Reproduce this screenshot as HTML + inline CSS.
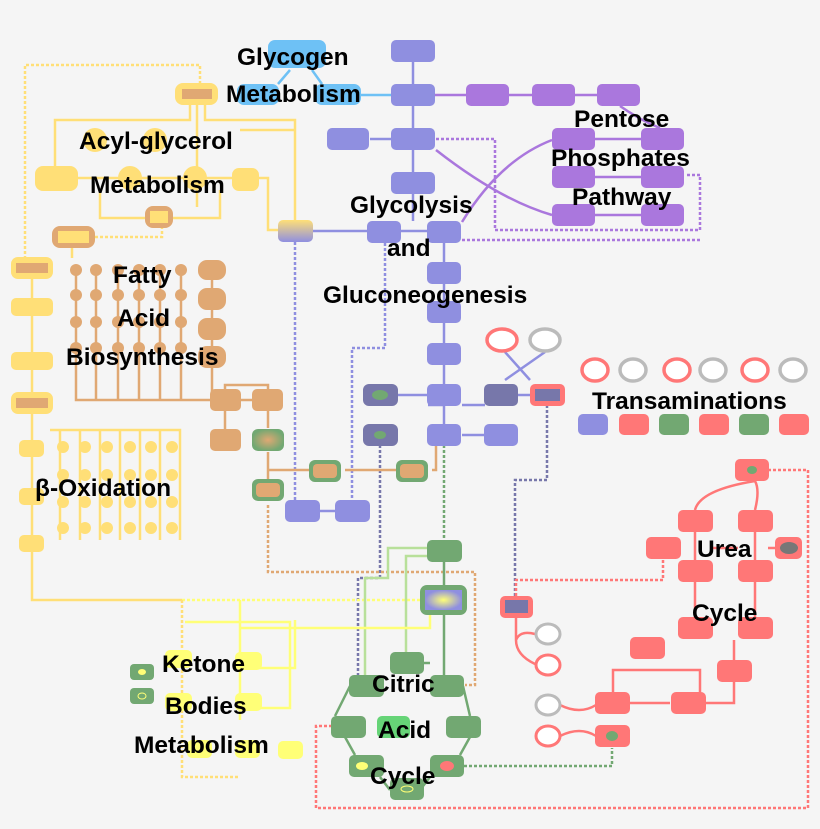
<!DOCTYPE html>
<html><head><meta charset="utf-8"><style>
html,body{margin:0;padding:0;background:#f5f5f5}
svg{display:block}
text{font-family:"Liberation Sans",sans-serif;font-weight:bold;font-size:24.5px;fill:#000}
.p{fill:#8f8fe0}.v{fill:#aa77dd}.y{fill:#ffdf77}.o{fill:#e0a873}.g{fill:#72a872}.r{fill:#ff7777}.b{fill:#6ec1f5}.d{fill:#7777aa}.ly{fill:#ffff77}
.lp{stroke:#8f8fe0;stroke-width:2.5;fill:none}.lv{stroke:#aa77dd;stroke-width:2.5;fill:none}
.ly2{stroke:#ffdf77;stroke-width:2.5;fill:none}.lo{stroke:#e0a873;stroke-width:2.5;fill:none}
.lg{stroke:#72a872;stroke-width:2.5;fill:none}.lr{stroke:#ff7777;stroke-width:2.5;fill:none}
.lk{stroke:#ffff77;stroke-width:2.5;fill:none}.llg{stroke:#b8e09a;stroke-width:2.5;fill:none}
.dt{stroke-dasharray:3 2}
</style></head><body>
<svg width="820" height="829" viewBox="0 0 820 829" xmlns="http://www.w3.org/2000/svg">
<defs>
<linearGradient id="gy" x1="0" y1="0" x2="0" y2="1"><stop offset="0" stop-color="#ffdf77"/><stop offset="1" stop-color="#8f8fe0"/></linearGradient>
<radialGradient id="gg"><stop offset="0" stop-color="#ffff77"/><stop offset="1" stop-color="#8f8fe0"/></radialGradient>
<radialGradient id="go"><stop offset="0" stop-color="#e0a873"/><stop offset="1" stop-color="#72a872"/></radialGradient>
</defs>
<path class="ly2 dt" d="M200 84V65H25V258"/>
<path class="ly2 dt" d="M95 237H162V222"/>
<path class="lp dt" d="M295 242V510"/>
<path class="lp dt" d="M385 243V348H352V510"/>
<path class="lv dt" d="M436 139H495V230H700V175H685"/>
<path class="lv dt" d="M462 240H700"/>
<path class="lg dt" d="M444 445V540"/>
<path style="stroke:#7777aa;stroke-width:2.5;fill:none" stroke-dasharray="3 2" d="M380 445V578H358V690"/>
<path style="stroke:#7777aa;stroke-width:2.5;fill:none" stroke-dasharray="3 2" d="M547 405V480H515V596"/>
<path class="lo dt" d="M268 505V572H475V685H465"/>
<path class="lr dt" d="M516 596V580H663V560"/>
<path class="lr dt" d="M768 470H808V808H316V726H332"/>
<path class="lg dt" d="M464 766H612V748"/>
<path class="lk dt" d="M182 600H420"/>
<path class="ly2 dt" d="M182 600V777H240"/>
<path class="lp" d="M413 62V84M413 106V128M370 139H391M413 150V172M413 194V221M313 231H367M401 231H427M444 243V425M444 405H428M462 405H485M462 435H485M444 445V425M320 511H335M398 395H428M518 395H530M505 352L530 380M545 352L505 380"/>
<path class="lv" d="M435 95H466M509 95H532M575 95H597M436 150Q500 200 552 215M462 222Q500 160 552 140M595 139H641M595 177H641M595 215H641M620 106Q640 120 660 128"/>
<path style="stroke:#6ec1f5;stroke-width:2.5;fill:none" d="M360 95H391M278 84L290 70M312 70L322 84"/>
<path class="ly2" d="M190 104V120H55V166M205 104V120H295V220M197 104V207M75 178H233M258 178H268V230H278M100 190V218H145M220 190V218H172M240 130H295M72 248V258M32 278V298M32 315V352M32 370V393M32 412V440M32 456V490M32 505V535M32 552V600H182M50 430H180V540M60 430V540M80 430V540M100 430V540M120 430V540M140 430V540M160 430V540"/>
<g class="y"><circle cx="63" cy="447" r="6"/><circle cx="85" cy="447" r="6"/><circle cx="107" cy="447" r="6"/><circle cx="130" cy="447" r="6"/><circle cx="151" cy="447" r="6"/><circle cx="172" cy="447" r="6"/>
<circle cx="63" cy="475" r="6"/><circle cx="85" cy="475" r="6"/><circle cx="107" cy="475" r="6"/><circle cx="130" cy="475" r="6"/><circle cx="151" cy="475" r="6"/><circle cx="172" cy="475" r="6"/>
<circle cx="63" cy="502" r="6"/><circle cx="85" cy="502" r="6"/><circle cx="107" cy="502" r="6"/><circle cx="130" cy="502" r="6"/><circle cx="151" cy="502" r="6"/><circle cx="172" cy="502" r="6"/>
<circle cx="63" cy="528" r="6"/><circle cx="85" cy="528" r="6"/><circle cx="107" cy="528" r="6"/><circle cx="130" cy="528" r="6"/><circle cx="151" cy="528" r="6"/><circle cx="172" cy="528" r="6"/>
<circle cx="95" cy="140" r="12"/><circle cx="155" cy="140" r="12"/><circle cx="130" cy="178" r="12"/><circle cx="195" cy="178" r="12"/></g>
<path class="lo" d="M76 270V400H265V390M96 270V400M118 270V400M139 270V400M160 270V400M181 270V400M212 280V400M225 390V385H268V390M225 410V430M268 410V428M268 452V470H310M345 470H398M432 470H436V445M268 452V480"/>
<g class="o"><circle cx="76" cy="270" r="6"/><circle cx="96" cy="270" r="6"/><circle cx="118" cy="270" r="6"/><circle cx="139" cy="270" r="6"/><circle cx="160" cy="270" r="6"/><circle cx="181" cy="270" r="6"/>
<circle cx="76" cy="295" r="6"/><circle cx="96" cy="295" r="6"/><circle cx="118" cy="295" r="6"/><circle cx="139" cy="295" r="6"/><circle cx="160" cy="295" r="6"/><circle cx="181" cy="295" r="6"/>
<circle cx="76" cy="322" r="6"/><circle cx="96" cy="322" r="6"/><circle cx="118" cy="322" r="6"/><circle cx="139" cy="322" r="6"/><circle cx="160" cy="322" r="6"/><circle cx="181" cy="322" r="6"/>
<circle cx="76" cy="348" r="6"/><circle cx="96" cy="348" r="6"/><circle cx="118" cy="348" r="6"/><circle cx="139" cy="348" r="6"/><circle cx="160" cy="348" r="6"/><circle cx="181" cy="348" r="6"/></g>
<path class="lg" d="M444 562V585M444 615V675M406 663H430M350 686L335 716M463 686L470 716M345 737L355 755M470 737L460 755M380 777L390 790M430 777L420 790"/>
<path class="llg" d="M427 548H388V578H365V686M427 556H406V652"/>
<path class="lk" d="M240 600V720M240 628H430V614M185 622H290V708H255M295 620V668H240"/>
<path class="lr" d="M516 616V640Q516 655 535 664M516 640Q520 630 535 634M560 705Q580 715 596 705M560 736Q580 726 596 736M613 692V670H700V692M630 703H670M705 703H734V682M734 660V640M755 481Q700 490 695 510M755 481Q760 490 755 510M695 532V560M755 532V560M695 580V617M755 580V617M713 548H738M768 548H776"/>
<g>
<rect class="b" x="268" y="40" width="58" height="28" rx="7"/><rect class="b" x="237" y="84" width="42" height="21" rx="7"/><rect class="b" x="315" y="84" width="46" height="21" rx="7"/>
<rect class="p" x="391" y="40" width="44" height="22" rx="5"/><rect class="p" x="391" y="84" width="44" height="22" rx="5"/><rect class="p" x="327" y="128" width="42" height="22" rx="5"/><rect class="p" x="391" y="128" width="44" height="22" rx="5"/><rect class="p" x="391" y="172" width="44" height="22" rx="5"/>
<rect class="p" x="367" y="221" width="34" height="22" rx="5"/><rect class="p" x="427" y="221" width="34" height="22" rx="5"/>
<rect class="p" x="427" y="262" width="34" height="22" rx="5"/><rect class="p" x="427" y="301" width="34" height="22" rx="5"/><rect class="p" x="427" y="343" width="34" height="22" rx="5"/><rect class="p" x="427" y="384" width="34" height="22" rx="5"/><rect class="p" x="427" y="424" width="34" height="22" rx="5"/><rect class="p" x="484" y="424" width="34" height="22" rx="5"/>
<rect class="d" x="484" y="384" width="34" height="22" rx="5"/>
<rect class="d" x="363" y="384" width="35" height="22" rx="6"/><ellipse class="g" cx="380" cy="395" rx="8" ry="5"/>
<rect class="d" x="363" y="424" width="35" height="22" rx="6"/><ellipse class="g" cx="380" cy="435" rx="6" ry="4"/>
<rect class="p" x="285" y="500" width="35" height="22" rx="5"/><rect class="p" x="335" y="500" width="35" height="22" rx="5"/>
<rect class="v" x="466" y="84" width="43" height="22" rx="5"/><rect class="v" x="532" y="84" width="43" height="22" rx="5"/><rect class="v" x="597" y="84" width="43" height="22" rx="5"/>
<rect class="v" x="552" y="128" width="43" height="22" rx="5"/><rect class="v" x="641" y="128" width="43" height="22" rx="5"/><rect class="v" x="552" y="166" width="43" height="22" rx="5"/><rect class="v" x="641" y="166" width="43" height="22" rx="5"/><rect class="v" x="552" y="204" width="43" height="22" rx="5"/><rect class="v" x="641" y="204" width="43" height="22" rx="5"/>
<rect x="278" y="220" width="35" height="22" rx="5" fill="url(#gy)"/>
<rect class="y" x="175" y="83" width="43" height="22" rx="8"/><rect class="o" x="182" y="89" width="30" height="10"/>
<rect class="y" x="35" y="166" width="43" height="25" rx="8"/><rect class="y" x="232" y="168" width="27" height="23" rx="7"/>
<rect class="o" x="145" y="206" width="28" height="22" rx="8"/><rect class="y" x="150" y="211" width="18" height="12"/>
<rect class="o" x="52" y="226" width="43" height="22" rx="8"/><rect class="y" x="58" y="231" width="31" height="12"/>
<rect class="y" x="11" y="257" width="42" height="22" rx="7"/><rect class="o" x="16" y="263" width="32" height="10"/>
<rect class="y" x="11" y="298" width="42" height="18" rx="5"/><rect class="y" x="11" y="352" width="42" height="18" rx="5"/>
<rect class="y" x="11" y="392" width="42" height="22" rx="7"/><rect class="o" x="16" y="398" width="32" height="10"/>
<rect class="y" x="19" y="440" width="25" height="17" rx="5"/><rect class="y" x="19" y="488" width="25" height="17" rx="5"/><rect class="y" x="19" y="535" width="25" height="17" rx="5"/>
<rect class="o" x="198" y="260" width="28" height="20" rx="9"/><rect class="o" x="198" y="288" width="28" height="22" rx="9"/><rect class="o" x="198" y="318" width="28" height="22" rx="9"/><rect class="o" x="198" y="346" width="28" height="22" rx="9"/>
<rect class="o" x="210" y="389" width="31" height="22" rx="5"/><rect class="o" x="252" y="389" width="31" height="22" rx="5"/><rect class="o" x="210" y="429" width="31" height="22" rx="5"/>
<rect x="252" y="429" width="32" height="22" rx="6" fill="url(#go)"/>
<rect class="g" x="252" y="479" width="32" height="22" rx="6"/><rect class="o" x="256" y="483" width="24" height="14" rx="4"/>
<rect class="g" x="309" y="460" width="32" height="22" rx="6"/><rect class="o" x="313" y="464" width="24" height="14" rx="4"/>
<rect class="g" x="396" y="460" width="32" height="22" rx="6"/><rect class="o" x="400" y="464" width="24" height="14" rx="4"/>
<rect class="ly" x="165" y="650" width="27" height="18" rx="5"/><rect class="ly" x="235" y="652" width="27" height="18" rx="5"/><rect class="ly" x="165" y="693" width="27" height="18" rx="5"/><rect class="ly" x="235" y="693" width="27" height="18" rx="5"/><rect class="ly" x="187" y="740" width="25" height="18" rx="5"/><rect class="ly" x="235" y="740" width="25" height="18" rx="5"/><rect class="ly" x="278" y="741" width="25" height="18" rx="5"/>
<rect class="g" x="130" y="664" width="24" height="16" rx="4"/><ellipse cx="142" cy="672" rx="4" ry="3" fill="#ffff77"/>
<rect class="g" x="130" y="688" width="24" height="16" rx="4"/><ellipse cx="142" cy="696" rx="4" ry="3" fill="none" stroke="#ffff77"/>
<rect class="g" x="427" y="540" width="35" height="22" rx="5"/>
<rect class="g" x="420" y="585" width="47" height="30" rx="7"/><rect x="425" y="590" width="37" height="20" fill="url(#gg)"/>
<rect class="g" x="390" y="652" width="34" height="22" rx="5"/><rect class="g" x="349" y="675" width="35" height="22" rx="5"/><rect class="g" x="430" y="675" width="34" height="22" rx="5"/>
<rect class="g" x="331" y="716" width="35" height="22" rx="5"/><rect class="g" x="446" y="716" width="35" height="22" rx="5"/><rect x="377" y="716" width="33" height="22" rx="5" fill="#66d477"/>
<rect class="g" x="349" y="755" width="35" height="22" rx="5"/><ellipse cx="362" cy="766" rx="6" ry="4" fill="#ffff77"/>
<rect class="g" x="430" y="755" width="34" height="22" rx="5"/><ellipse cx="447" cy="766" rx="7" ry="5" fill="#ff7777"/>
<rect class="g" x="390" y="778" width="34" height="22" rx="5"/><ellipse cx="407" cy="789" rx="6" ry="3" fill="none" stroke="#ffff77"/>
<rect class="r" x="500" y="596" width="33" height="22" rx="5"/><rect class="d" x="505" y="600" width="23" height="13"/>
<rect class="r" x="530" y="384" width="35" height="22" rx="5"/><rect class="d" x="535" y="389" width="25" height="12"/>
<ellipse cx="502" cy="340" rx="15" ry="11" fill="#fff" stroke="#ff7777" stroke-width="3.5"/><ellipse cx="545" cy="340" rx="15" ry="11" fill="#fff" stroke="#bbb" stroke-width="3.5"/>
<ellipse cx="595" cy="370" rx="13" ry="11" fill="#fff" stroke="#ff7777" stroke-width="3.5"/><ellipse cx="633" cy="370" rx="13" ry="11" fill="#fff" stroke="#bbb" stroke-width="3.5"/>
<ellipse cx="677" cy="370" rx="13" ry="11" fill="#fff" stroke="#ff7777" stroke-width="3.5"/><ellipse cx="713" cy="370" rx="13" ry="11" fill="#fff" stroke="#bbb" stroke-width="3.5"/>
<ellipse cx="755" cy="370" rx="13" ry="11" fill="#fff" stroke="#ff7777" stroke-width="3.5"/><ellipse cx="793" cy="370" rx="13" ry="11" fill="#fff" stroke="#bbb" stroke-width="3.5"/>
<rect class="p" x="578" y="414" width="30" height="21" rx="5"/><rect class="r" x="619" y="414" width="30" height="21" rx="5"/><rect class="g" x="659" y="414" width="30" height="21" rx="5"/><rect class="r" x="699" y="414" width="30" height="21" rx="5"/><rect class="g" x="739" y="414" width="30" height="21" rx="5"/><rect class="r" x="779" y="414" width="30" height="21" rx="5"/>
<ellipse cx="548" cy="634" rx="12" ry="10" fill="#fff" stroke="#bbb" stroke-width="3"/><ellipse cx="548" cy="665" rx="12" ry="10" fill="#fff" stroke="#ff7777" stroke-width="3"/>
<ellipse cx="548" cy="705" rx="12" ry="10" fill="#fff" stroke="#bbb" stroke-width="3"/><ellipse cx="548" cy="736" rx="12" ry="10" fill="#fff" stroke="#ff7777" stroke-width="3"/>
<rect class="r" x="735" y="459" width="34" height="22" rx="5"/><ellipse class="g" cx="752" cy="470" rx="5" ry="4"/>
<rect class="r" x="678" y="510" width="35" height="22" rx="5"/><rect class="r" x="738" y="510" width="35" height="22" rx="5"/>
<rect class="r" x="646" y="537" width="35" height="22" rx="5"/><rect class="r" x="775" y="537" width="27" height="22" rx="5"/><ellipse cx="789" cy="548" rx="9" ry="6" fill="#777"/>
<rect class="r" x="678" y="560" width="35" height="22" rx="5"/><rect class="r" x="738" y="560" width="35" height="22" rx="5"/>
<rect class="r" x="678" y="617" width="35" height="22" rx="5"/><rect class="r" x="738" y="617" width="35" height="22" rx="5"/>
<rect class="r" x="630" y="637" width="35" height="22" rx="5"/><rect class="r" x="717" y="660" width="35" height="22" rx="5"/>
<rect class="r" x="595" y="692" width="35" height="22" rx="5"/><rect class="r" x="671" y="692" width="35" height="22" rx="5"/>
<rect class="r" x="595" y="725" width="35" height="22" rx="5"/><ellipse class="g" cx="612" cy="736" rx="6" ry="5"/>
</g>
<text x="237" y="65">Glycogen</text><text x="226" y="102">Metabolism</text>
<text x="79" y="149">Acyl-glycerol</text><text x="90" y="193">Metabolism</text>
<text x="113" y="283">Fatty</text><text x="117" y="326">Acid</text><text x="66" y="365">Biosynthesis</text>
<text x="35" y="496">β-Oxidation</text>
<text x="350" y="213">Glycolysis</text><text x="387" y="256">and</text><text x="323" y="303">Gluconeogenesis</text>
<text x="574" y="127">Pentose</text><text x="551" y="166">Phosphates</text><text x="572" y="205">Pathway</text>
<text x="592" y="409">Transaminations</text>
<text x="697" y="557">Urea</text><text x="692" y="621">Cycle</text>
<text x="372" y="692">Citric</text><text x="378" y="738">Acid</text><text x="370" y="784">Cycle</text>
<text x="162" y="672">Ketone</text><text x="165" y="714">Bodies</text><text x="134" y="753">Metabolism</text>
</svg>
</body></html>
